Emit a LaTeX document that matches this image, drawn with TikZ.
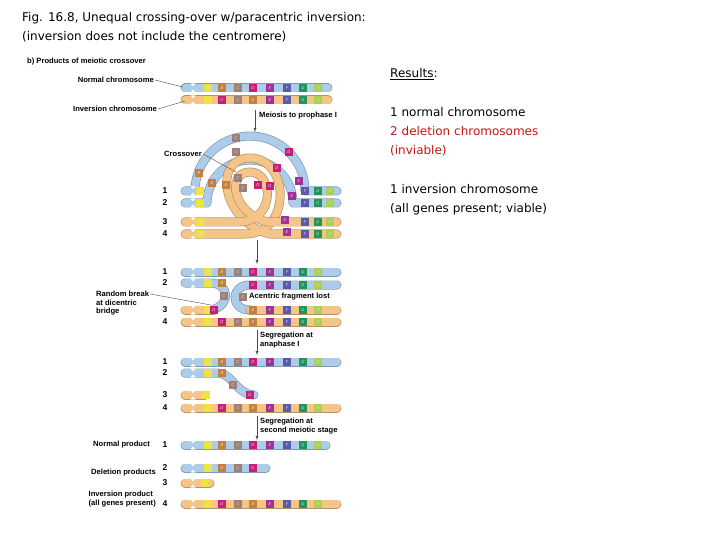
\documentclass[tikz,border=0pt]{standalone}
\usepackage{fontspec}
\setmainfont{DejaVu Sans}
\newfontfamily\figfont{Liberation Sans}
\definecolor{cA}{RGB}{240,228,60}
\definecolor{cB}{RGB}{196,128,62}
\definecolor{cC}{RGB}{158,128,118}
\definecolor{cD}{RGB}{200,30,120}
\definecolor{cE}{RGB}{160,50,150}
\definecolor{cF}{RGB}{90,90,170}
\definecolor{cG}{RGB}{30,150,90}
\definecolor{cH}{RGB}{170,210,80}
\definecolor{chrB}{RGB}{172,204,234}
\definecolor{chrO}{RGB}{245,196,136}
\definecolor{resred}{RGB}{200,20,20}
\tikzset{
  lbl/.style={font=\figfont\bfseries\fontsize{7.6}{8.6}\selectfont, inner sep=1pt},
  res/.style={anchor=base west, align=left, font=\fontsize{12}{19}\selectfont, inner sep=0pt},
  pointer/.style={draw=black!70, thin},
  stage/.style={-latex, draw=black!70, thin}
}
% a tube along a path, grey rim first
\newcommand\tube[2]{\draw[line width=9pt, line cap=round, line join=round, #1!75!black] #2;
  \draw[line width=7.6pt, line cap=round, line join=round, #1] #2;}
% pinched centromere
\newcommand\cen[2]{\fill[white] (#1-2.5,#2-4.6) -- (#1,#2-1.6) -- (#1+2.5,#2-4.6) -- cycle;
  \fill[white] (#1-2.5,#2+4.6) -- (#1,#2+1.6) -- (#1+2.5,#2+4.6) -- cycle;}
\newcommand\band[4]{\fill[#3] (#1-3.6,#2-4) rectangle (#1+3.6,#2+4);
  \node[font=\fontsize{4}{4}\selectfont\itshape, inner sep=0pt, white!85!black] at (#1,#2) {#4};}
\newcommand\normalset{A/cA/208,B/cB/222,C/cC/238,D/cD/253,E/cE/270,F/cF/287,G/cG/303,H/cH/318}
\newcommand\invset{A/cA/208,D/cD/222,C/cC/238,B/cB/253,E/cE/270,F/cF/287,G/cG/303,H/cH/318}
\newcommand\genes[2]{\foreach \gl/\gc/\gx in #2 {\band{\gx}{#1}{\gc}{\gl}}}
\newcommand\rowno[2]{\node[lbl, font=\figfont\bfseries\fontsize{8.5}{9}\selectfont] at (165,#1) {#2};}

\begin{document}
\begin{tikzpicture}[x=1pt,y=-1pt]
\useasboundingbox (0,0) rectangle (720,540);
% title
\node[anchor=base west, inner sep=0pt, font=\fontsize{12}{14}\selectfont] (title) at (22,22) {Fig. 16.8, Unequal crossing-over w/paracentric inversion:};
\node[anchor=base west, inner sep=0pt, font=\fontsize{12}{14}\selectfont] (title2) at (22,41) {(inversion does not include the centromere)};
\node[lbl, anchor=west] (sub) at (26,62) {b) Products of meiotic crossover};

% parents
\tube{chrB}{(185,88) -- (328,88)} \cen{193}{88} \genes{88}{\normalset}
\tube{chrO}{(185,100) -- (328,100)} \cen{193}{100} \genes{100}{\invset}
\node[lbl, anchor=east] (normlbl) at (155,80) {Normal chromosome};
\node[lbl, anchor=east] (invlbl) at (158,109) {Inversion chromosome};
\draw[pointer] (normlbl.east) -- (183,87);
\draw[pointer] (invlbl.east) -- (185,101);
\coordinate (s1a) at (255,110); \coordinate (s1b) at (255,132);
\draw[stage] (s1a) -- (s1b);
\node[lbl, anchor=west] (meio) at (258,116) {Meiosis to prophase I};

% pairing loop
\tube{chrB}{(185,191) -- (195,191) arc[start angle=180, end angle=360, radius=55] -- (337,191)}
\tube{chrB}{(185,203) -- (207,203) arc[start angle=180, end angle=360, radius=43] -- (337,203)}
\tube{chrO}{(185,234) -- (245,234) .. controls (292,234) and (290,158) .. (250,158) .. controls (212,158) and (222,222) .. (270,234) -- (337,234)}
\tube{chrO}{(185,222) -- (238,222) .. controls (276,222) and (274,172) .. (250,172) .. controls (226,172) and (232,214) .. (268,222) -- (337,222)}
\foreach \ry in {191,203,222,234} {\cen{193}{\ry} \band{200}{\ry}{cA}{A}}
\foreach \ry in {191,203,222,234} {\band{305}{\ry}{cF}{F} \band{318}{\ry}{cG}{G} \band{330}{\ry}{cH}{H}}
\band{236}{138}{cC}{C} \band{236}{152}{cC}{C} \band{199}{173}{cB}{B} \band{212}{183}{cB}{B}
\band{289}{152}{cD}{D} \band{277}{168}{cD}{D} \band{299}{181}{cE}{E} \band{292}{196}{cE}{E}
\band{238}{178}{cC}{C} \band{243}{188}{cC}{C} \band{226}{185}{cB}{B} \band{258}{185}{cD}{D} \band{270}{186}{cD}{D}
\band{285}{220}{cE}{E} \band{287}{232}{cE}{E}
\node[lbl, anchor=east] (cross) at (203,154) {Crossover};
\draw[pointer] (cross.east) -- (236,172);
\foreach \ry/\n in {191/1,203/2,222/3,234/4} {\rowno{\ry}{\n}}
\coordinate (s2a) at (257,240); \coordinate (s2b) at (257,264);
\draw[stage] (s2a) -- (s2b);

% dicentric bridge breaks
\tube{chrB}{(185,272) -- (337,272)} \cen{193}{272} \genes{272}{\normalset}
\tube{chrB}{(185,283) -- (210,283) .. controls (230,283) and (230,305) .. (214,309)}
\tube{chrO}{(185,310) -- (214,310)}
\tube{chrB}{(337,285) -- (250,285) .. controls (230,285) and (230,310) .. (250,310)}
\tube{chrO}{(250,310) -- (337,310)}
\tube{chrO}{(185,322) -- (337,322)}
\foreach \ry in {283,310,322} {\cen{193}{\ry}}
\band{208}{283}{cA}{A} \band{222}{283}{cB}{B} \band{224}{296}{cC}{C}
\band{208}{310}{cA}{A} \band{214}{310}{cD}{D}
\band{243}{297}{cC}{C}
\genes{285}{{D/cD/253,E/cE/270,F/cF/287,G/cG/303,H/cH/318}}
\genes{310}{{B/cB/253,E/cE/270,F/cF/287,G/cG/303,H/cH/318}}
\genes{322}{\invset}
\node[lbl, anchor=west] (acen) at (248,297) {Acentric fragment lost};
\node[lbl, anchor=north west, align=left] (brk) at (95,290) {Random break\\at dicentric\\bridge};
\draw[pointer] (brk.north east) ++(0,4) -- (211,305);
\foreach \ry/\n in {272/1,283/2,310/3,322/4} {\rowno{\ry}{\n}}
\coordinate (s3a) at (257,330); \coordinate (s3b) at (257,355);
\draw[stage] (s3a) -- (s3b);
\node[lbl, anchor=north west, align=left] (ana) at (259,331) {Segregation at\\anaphase I};

% anaphase I
\tube{chrB}{(185,362) -- (337,362)} \cen{193}{362} \genes{362}{\normalset}
\tube{chrB}{(185,373) -- (218,373) .. controls (232,373) and (236,394) .. (254,395)}
\tube{chrO}{(185,395) -- (205,395)}
\tube{chrO}{(185,408) -- (337,408)}
\foreach \ry in {373,395,408} {\cen{193}{\ry}}
\band{208}{373}{cA}{A} \band{222}{373}{cB}{B} \band{233}{385}{cC}{C} \band{250}{395}{cD}{D}
\band{206}{395}{cA}{A}
\genes{408}{\invset}
\foreach \ry/\n in {362/1,373/2,395/3,408/4} {\rowno{\ry}{\n}}
\coordinate (s4a) at (257,416); \coordinate (s4b) at (257,440);
\draw[stage] (s4a) -- (s4b);
\node[lbl, anchor=north west, align=left] (sec) at (259,417) {Segregation at\\second meiotic stage};

% products
\tube{chrB}{(185,445) -- (326,445)} \cen{193}{445} \genes{445}{\normalset}
\tube{chrB}{(185,468) -- (266,468)} \cen{193}{468} \genes{468}{{A/cA/208,B/cB/222,C/cC/238,D/cD/253}}
\tube{chrO}{(185,483) -- (210,483)} \cen{193}{483} \band{205}{483}{cA}{A}
\tube{chrO}{(185,504) -- (337,504)} \cen{193}{504} \genes{504}{\invset}
\foreach \ry/\n in {445/1,468/2,483/3,504/4} {\rowno{\ry}{\n}}
\node[lbl, anchor=east] (normp) at (151,445) {Normal product};
\node[lbl, anchor=east] (delp) at (157,473) {Deletion products};
\node[lbl, anchor=east, align=left] (invp) at (157,499) {Inversion product\\(all genes present)};

% results
\node[res] (rhead) at (390,78) {\underline{Results}:};
\node[res] (r1) at (390,117) {1 normal chromosome};
\node[res, text=resred] (r2) at (390,155) {2 deletion chromosomes\\(inviable)};
\node[res] (r3) at (390,213) {1 inversion chromosome\\(all genes present; viable)};
\end{tikzpicture}
\end{document}
